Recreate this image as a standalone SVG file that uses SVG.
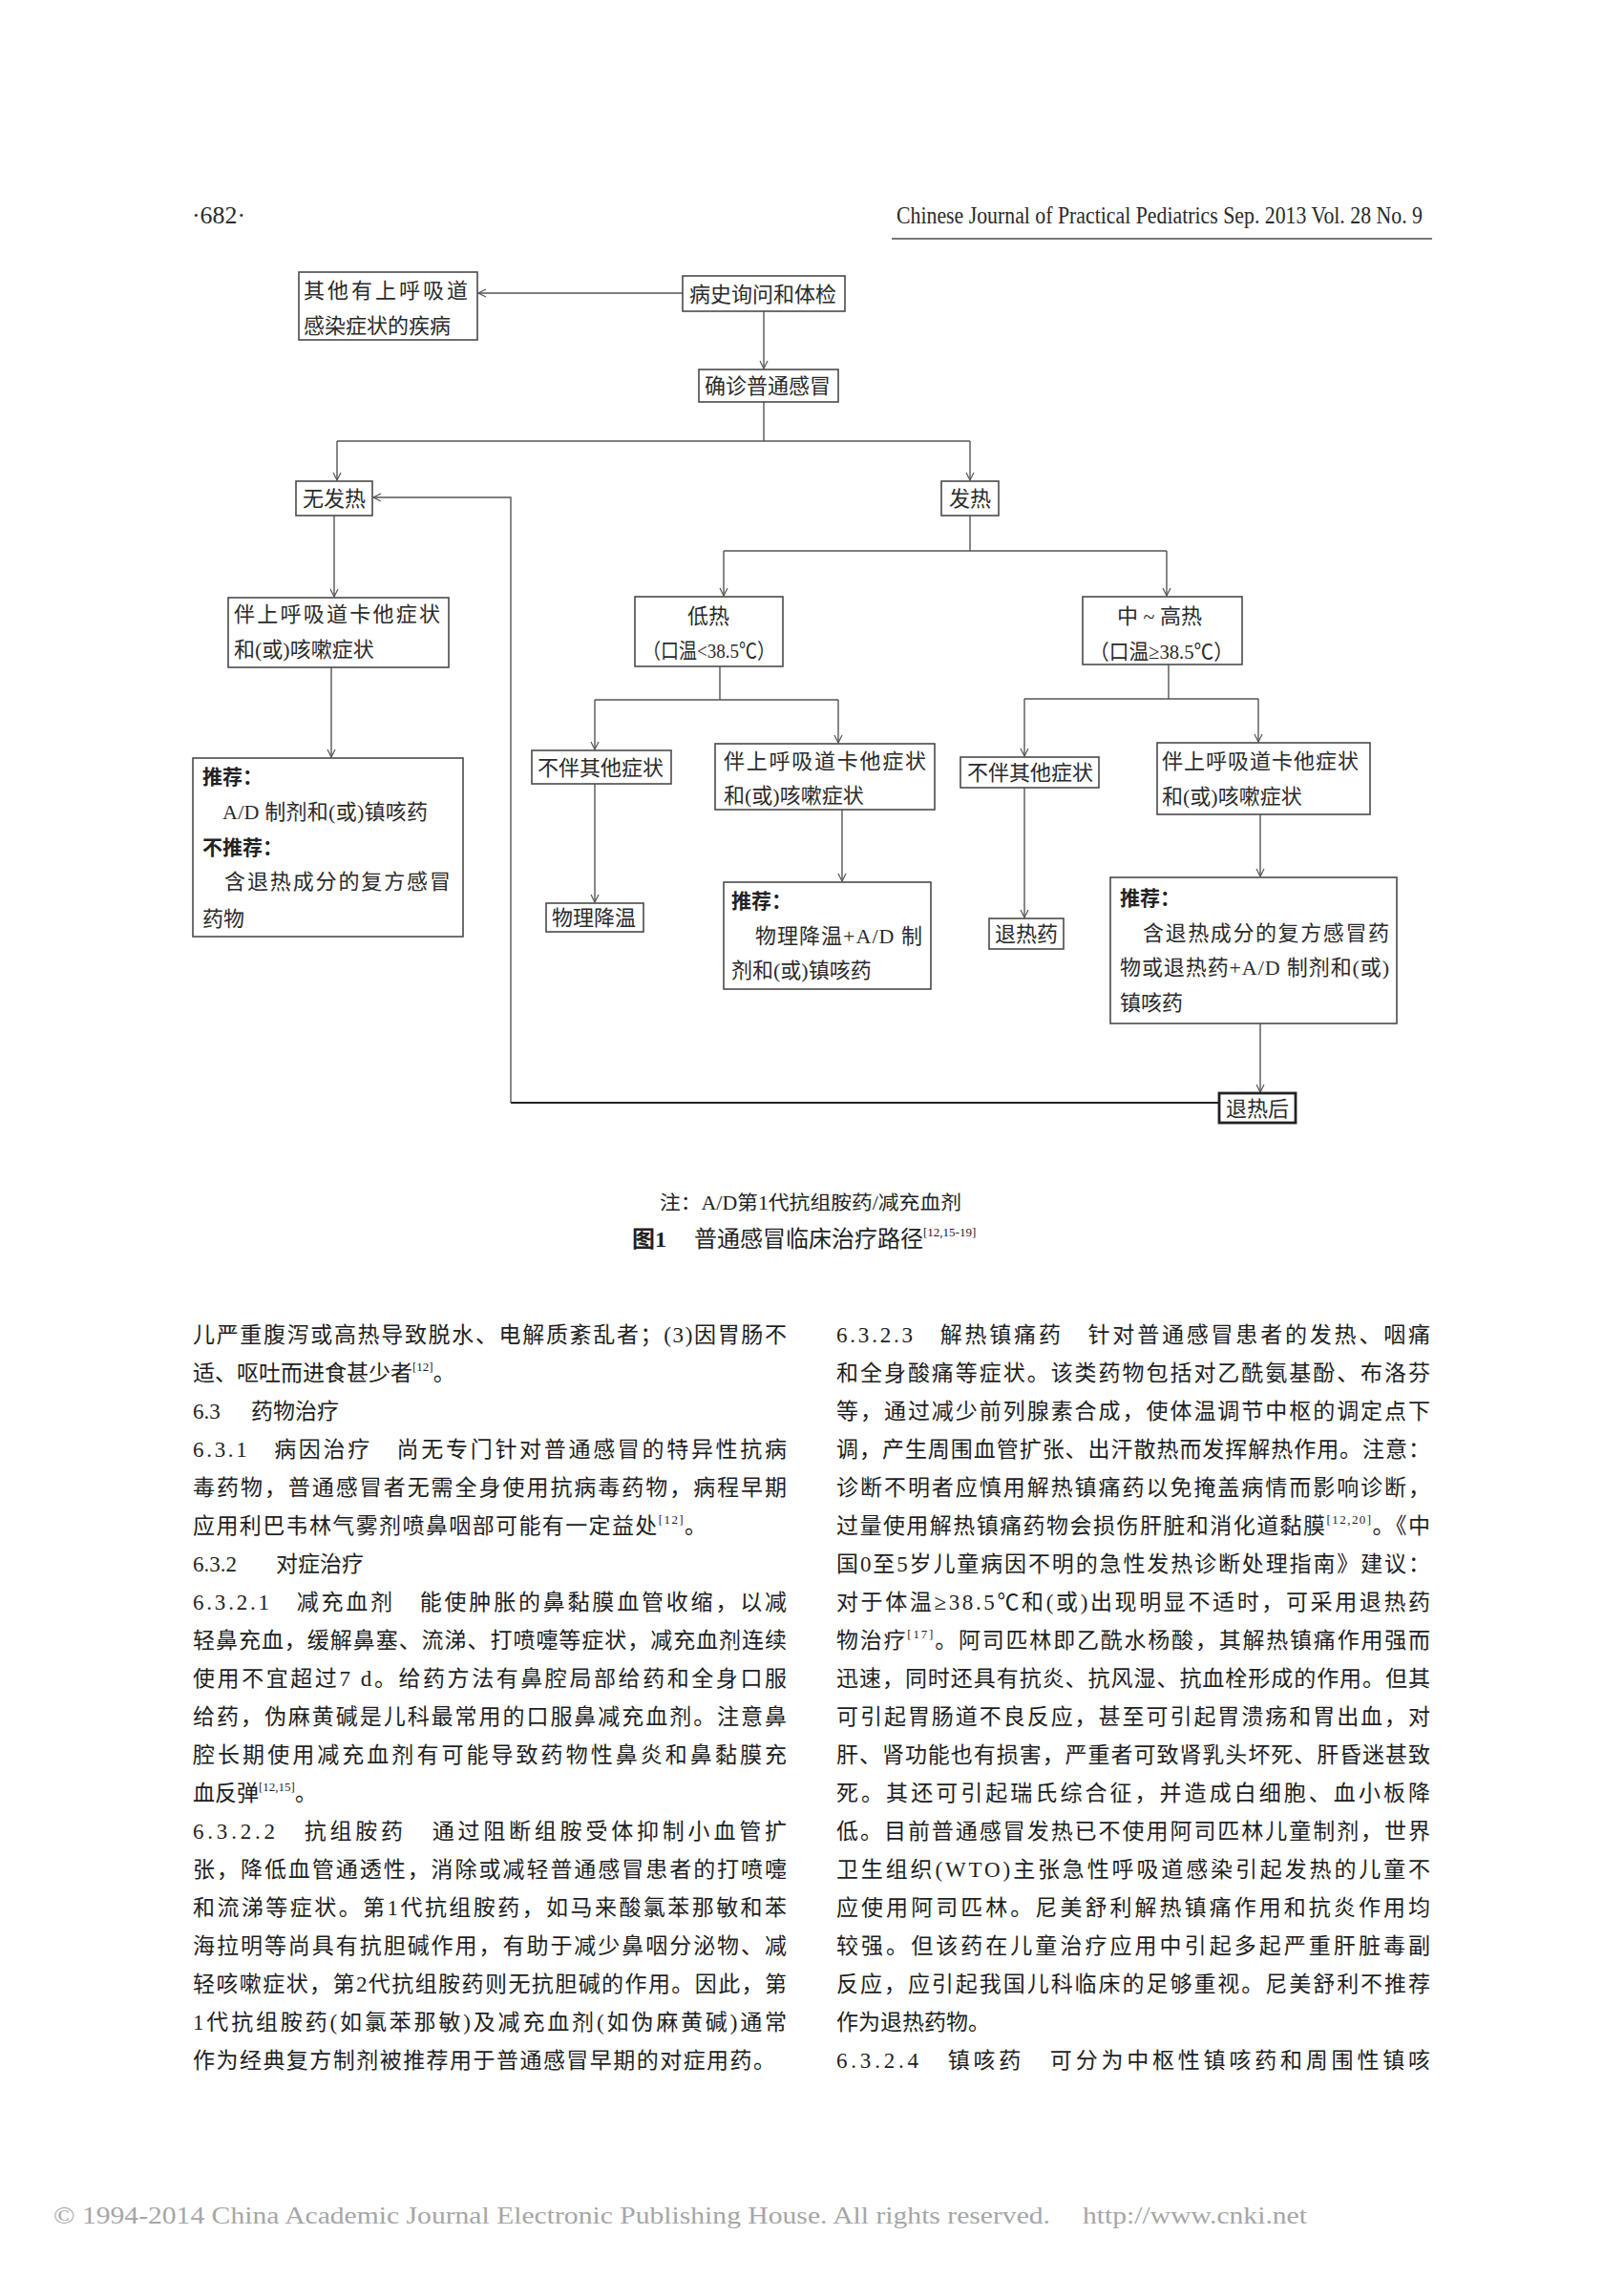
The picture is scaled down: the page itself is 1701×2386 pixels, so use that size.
<svg xmlns="http://www.w3.org/2000/svg" width="1701" height="2386" viewBox="0 0 1701 2386">
<defs>
<style>
.bg{fill:#ffffff}
.box{fill:#ffffff;stroke:#4a4a4a;stroke-width:1.6}
.boxb{fill:#ffffff;stroke:#222;stroke-width:2.8}
.t{font-family:"Liberation Serif","Noto Sans CJK SC",serif;font-size:22px;fill:#2a2a2a}
.tb{font-family:"Noto Sans CJK SC","Liberation Sans",sans-serif;font-size:21px;font-weight:bold;fill:#222}
.ln{fill:none;stroke:#555;stroke-width:1.4}
.lnd{fill:none;stroke:#222;stroke-width:2.2}
.body{font-family:"Liberation Serif","Noto Sans CJK SC",serif;font-size:23px;fill:#1e1e1e}
.hdr{font-family:"Liberation Serif",serif;font-size:25px;fill:#2a2a2a}
.cap{font-family:"Liberation Serif","Noto Sans CJK SC",serif;fill:#222}
.foot{font-family:"Liberation Serif",serif;font-size:26px;fill:#a6a6a6}
.sup{font-size:13px}
</style>
<marker id="ah" markerWidth="10" markerHeight="10" refX="9" refY="5" orient="auto" markerUnits="userSpaceOnUse">
<path d="M1,1 L9,5 L1,9" fill="none" stroke="#555" stroke-width="1.2"/>
</marker>
</defs>
<rect class="bg" x="0" y="0" width="1701" height="2386"/>

<g id="header">
<text class="hdr" x="201" y="234" textLength="56" lengthAdjust="spacingAndGlyphs">·682·</text>
<text class="hdr" x="939" y="234" textLength="551" lengthAdjust="spacingAndGlyphs">Chinese Journal of Practical Pediatrics Sep. 2013 Vol. 28 No. 9</text>
<line x1="934" y1="250" x2="1500" y2="250" stroke="#777" stroke-width="2"/>
</g>

<g id="connectors">
<line class="ln" x1="715" y1="307" x2="501" y2="307" marker-end="url(#ah)"/>
<line class="ln" x1="800" y1="326" x2="800" y2="386" marker-end="url(#ah)"/>
<line class="ln" x1="800" y1="421" x2="800" y2="462"/>
<line class="ln" x1="353" y1="462" x2="1016" y2="462"/>
<line class="ln" x1="353" y1="462" x2="353" y2="503" marker-end="url(#ah)"/>
<line class="ln" x1="1016" y1="462" x2="1016" y2="503" marker-end="url(#ah)"/>
<line class="ln" x1="1016" y1="540" x2="1016" y2="577"/>
<line class="ln" x1="758" y1="577" x2="1222" y2="577"/>
<line class="ln" x1="758" y1="577" x2="758" y2="624" marker-end="url(#ah)"/>
<line class="ln" x1="1222" y1="577" x2="1222" y2="624" marker-end="url(#ah)"/>
<line class="ln" x1="350" y1="540" x2="350" y2="625" marker-end="url(#ah)"/>
<line class="ln" x1="347" y1="699" x2="347" y2="793" marker-end="url(#ah)"/>
<line class="ln" x1="754" y1="698" x2="754" y2="733"/>
<line class="ln" x1="623" y1="733" x2="878" y2="733"/>
<line class="ln" x1="623" y1="733" x2="623" y2="785" marker-end="url(#ah)"/>
<line class="ln" x1="878" y1="733" x2="878" y2="778" marker-end="url(#ah)"/>
<line class="ln" x1="623" y1="821" x2="623" y2="945" marker-end="url(#ah)"/>
<line class="ln" x1="882" y1="848" x2="882" y2="923" marker-end="url(#ah)"/>
<line class="ln" x1="1224" y1="696" x2="1224" y2="732"/>
<line class="ln" x1="1073" y1="732" x2="1318" y2="732"/>
<line class="ln" x1="1073" y1="732" x2="1073" y2="792" marker-end="url(#ah)"/>
<line class="ln" x1="1318" y1="732" x2="1318" y2="777" marker-end="url(#ah)"/>
<line class="ln" x1="1073" y1="825" x2="1073" y2="961" marker-end="url(#ah)"/>
<line class="ln" x1="1320" y1="853" x2="1320" y2="918" marker-end="url(#ah)"/>
<line class="ln" x1="1320" y1="1072" x2="1320" y2="1144" marker-end="url(#ah)"/>
<line class="lnd" x1="1277" y1="1155" x2="535" y2="1155"/>
<polyline class="ln" points="535,1155 535,521 391,521" marker-end="url(#ah)"/>
</g>

<g id="n-other">
<rect class="box" x="313" y="285" width="187" height="71"/>
<text class="t" x="318" y="312" textLength="172" lengthAdjust="spacing">其他有上呼吸道</text>
<text class="t" x="318" y="349">感染症状的疾病</text>
</g>
<g id="n-history">
<rect class="box" x="715" y="289" width="170" height="37"/>
<text class="t" x="722" y="316">病史询问和体检</text>
</g>
<g id="n-diagnose">
<rect class="box" x="732" y="387" width="146" height="34"/>
<text class="t" x="738" y="412">确诊普通感冒</text>
</g>
<g id="n-nofever">
<rect class="box" x="310" y="504" width="80" height="36"/>
<text class="t" x="317" y="530">无发热</text>
</g>
<g id="n-fever">
<rect class="box" x="986" y="504" width="60" height="36"/>
<text class="t" x="994" y="530">发热</text>
</g>
<g id="n-left-symptoms">
<rect class="box" x="239" y="626" width="231" height="73"/>
<text class="t" x="245" y="651" textLength="216" lengthAdjust="spacing">伴上呼吸道卡他症状</text>
<text class="t" x="245" y="688">和(或)咳嗽症状</text>
</g>
<g id="n-lowfever">
<rect class="box" x="665" y="625" width="155" height="73"/>
<text class="t" x="720" y="653">低热</text>
<text class="t" x="673" y="689" textLength="139" lengthAdjust="spacingAndGlyphs">（口温&lt;38.5℃）</text>
</g>
<g id="n-highfever">
<rect class="box" x="1134" y="625" width="167" height="71"/>
<text class="t" x="1170" y="653">中 ~ 高热</text>
<text class="t" x="1141" y="690" textLength="151" lengthAdjust="spacingAndGlyphs">（口温≥38.5℃）</text>
</g>
<g id="n-left-rec">
<rect class="box" x="202" y="794" width="283" height="187"/>
<text class="tb" x="212" y="821">推荐：</text>
<text class="t" x="233" y="858" textLength="215" lengthAdjust="spacing">A/D 制剂和(或)镇咳药</text>
<text class="tb" x="212" y="895">不推荐：</text>
<text class="t" x="235" y="931" textLength="237" lengthAdjust="spacing">含退热成分的复方感冒</text>
<text class="t" x="212" y="970">药物</text>
</g>
<g id="n-low-none">
<rect class="box" x="557" y="786" width="146" height="35"/>
<text class="t" x="563" y="812">不伴其他症状</text>
</g>
<g id="n-low-symptoms">
<rect class="box" x="749" y="779" width="230" height="69"/>
<text class="t" x="758" y="805" textLength="212" lengthAdjust="spacing">伴上呼吸道卡他症状</text>
<text class="t" x="758" y="841">和(或)咳嗽症状</text>
</g>
<g id="n-physical">
<rect class="box" x="572" y="946" width="102" height="30"/>
<text class="t" x="578" y="969">物理降温</text>
</g>
<g id="n-low-rec">
<rect class="box" x="758" y="924" width="217" height="112"/>
<text class="tb" x="766" y="951">推荐：</text>
<text class="t" x="791" y="988" textLength="175" lengthAdjust="spacing">物理降温+A/D 制</text>
<text class="t" x="766" y="1024">剂和(或)镇咳药</text>
</g>
<g id="n-high-none">
<rect class="box" x="1006" y="793" width="145" height="32"/>
<text class="t" x="1013" y="817">不伴其他症状</text>
</g>
<g id="n-high-symptoms">
<rect class="box" x="1212" y="778" width="223" height="75"/>
<text class="t" x="1217" y="805" textLength="206" lengthAdjust="spacing">伴上呼吸道卡他症状</text>
<text class="t" x="1217" y="842">和(或)咳嗽症状</text>
</g>
<g id="n-antipyretic">
<rect class="box" x="1036" y="962" width="78" height="32"/>
<text class="t" x="1042" y="986">退热药</text>
</g>
<g id="n-high-rec">
<rect class="box" x="1163" y="919" width="300" height="153"/>
<text class="tb" x="1173" y="948">推荐：</text>
<text class="t" x="1197" y="985" textLength="258" lengthAdjust="spacing">含退热成分的复方感冒药</text>
<text class="t" x="1173" y="1021" textLength="282" lengthAdjust="spacing">物或退热药+A/D 制剂和(或)</text>
<text class="t" x="1173" y="1058">镇咳药</text>
</g>
<g id="n-afterfever">
<rect class="boxb" x="1277" y="1145" width="80" height="31"/>
<text class="t" x="1284" y="1169">退热后</text>
</g>

<g id="caption">
<text class="cap" x="691" y="1267" font-size="20" textLength="316" lengthAdjust="spacingAndGlyphs">注：A/D第1代抗组胺药/减充血剂</text>
<text class="cap" x="662" y="1306" font-size="24"><tspan font-weight="bold">图1</tspan><tspan x="727">普通感冒临床治疗路径</tspan><tspan class="sup" font-size="13" dy="-11">[12,15-19]</tspan></text>
</g>

<g id="body-left" class="body">
<text x="202" y="1406" textLength="622" lengthAdjust="spacing">儿严重腹泻或高热导致脱水、电解质紊乱者；(3)因胃肠不</text>
<text x="202" y="1446">适、呕吐而进食甚少者<tspan class="sup" dy="-10">[12]</tspan><tspan dy="10">。</tspan></text>
<text x="202" y="1486">6.3<tspan x="263">药物治疗</tspan></text>
<text x="202" y="1526" textLength="622" lengthAdjust="spacing">6.3.1　病因治疗　尚无专门针对普通感冒的特异性抗病</text>
<text x="202" y="1566" textLength="622" lengthAdjust="spacing">毒药物，普通感冒者无需全身使用抗病毒药物，病程早期</text>
<text x="202" y="1606" textLength="538" lengthAdjust="spacing">应用利巴韦林气雾剂喷鼻咽部可能有一定益处<tspan class="sup" dy="-10">[12]</tspan><tspan dy="10">。</tspan></text>
<text x="202" y="1646">6.3.2<tspan x="289">对症治疗</tspan></text>
<text x="202" y="1686" textLength="622" lengthAdjust="spacing">6.3.2.1　减充血剂　能使肿胀的鼻黏膜血管收缩，以减</text>
<text x="202" y="1726" textLength="622" lengthAdjust="spacing">轻鼻充血，缓解鼻塞、流涕、打喷嚏等症状，减充血剂连续</text>
<text x="202" y="1766" textLength="622" lengthAdjust="spacing">使用不宜超过7 d。给药方法有鼻腔局部给药和全身口服</text>
<text x="202" y="1806" textLength="622" lengthAdjust="spacing">给药，伪麻黄碱是儿科最常用的口服鼻减充血剂。注意鼻</text>
<text x="202" y="1846" textLength="622" lengthAdjust="spacing">腔长期使用减充血剂有可能导致药物性鼻炎和鼻黏膜充</text>
<text x="202" y="1886">血反弹<tspan class="sup" dy="-10">[12,15]</tspan><tspan dy="10">。</tspan></text>
<text x="202" y="1926" textLength="622" lengthAdjust="spacing">6.3.2.2　抗组胺药　通过阻断组胺受体抑制小血管扩</text>
<text x="202" y="1966" textLength="622" lengthAdjust="spacing">张，降低血管通透性，消除或减轻普通感冒患者的打喷嚏</text>
<text x="202" y="2006" textLength="622" lengthAdjust="spacing">和流涕等症状。第1代抗组胺药，如马来酸氯苯那敏和苯</text>
<text x="202" y="2046" textLength="622" lengthAdjust="spacing">海拉明等尚具有抗胆碱作用，有助于减少鼻咽分泌物、减</text>
<text x="202" y="2086" textLength="622" lengthAdjust="spacing">轻咳嗽症状，第2代抗组胺药则无抗胆碱的作用。因此，第</text>
<text x="202" y="2126" textLength="622" lengthAdjust="spacing">1代抗组胺药(如氯苯那敏)及减充血剂(如伪麻黄碱)通常</text>
<text x="202" y="2166" textLength="610" lengthAdjust="spacing">作为经典复方制剂被推荐用于普通感冒早期的对症用药。</text>
</g>

<g id="body-right" class="body">
<text x="876" y="1406" textLength="622" lengthAdjust="spacing">6.3.2.3　解热镇痛药　针对普通感冒患者的发热、咽痛</text>
<text x="876" y="1446" textLength="622" lengthAdjust="spacing">和全身酸痛等症状。该类药物包括对乙酰氨基酚、布洛芬</text>
<text x="876" y="1486" textLength="622" lengthAdjust="spacing">等，通过减少前列腺素合成，使体温调节中枢的调定点下</text>
<text x="876" y="1526" textLength="622" lengthAdjust="spacing">调，产生周围血管扩张、出汗散热而发挥解热作用。注意：</text>
<text x="876" y="1566" textLength="622" lengthAdjust="spacing">诊断不明者应慎用解热镇痛药以免掩盖病情而影响诊断，</text>
<text x="876" y="1606" textLength="622" lengthAdjust="spacing">过量使用解热镇痛药物会损伤肝脏和消化道黏膜<tspan class="sup" dy="-10">[12,20]</tspan><tspan dy="10">。《中</tspan></text>
<text x="876" y="1646" textLength="622" lengthAdjust="spacing">国0至5岁儿童病因不明的急性发热诊断处理指南》建议：</text>
<text x="876" y="1686" textLength="622" lengthAdjust="spacing">对于体温≥38.5℃和(或)出现明显不适时，可采用退热药</text>
<text x="876" y="1726" textLength="622" lengthAdjust="spacing">物治疗<tspan class="sup" dy="-10">[17]</tspan><tspan dy="10">。阿司匹林即乙酰水杨酸，其解热镇痛作用强而</tspan></text>
<text x="876" y="1766" textLength="622" lengthAdjust="spacing">迅速，同时还具有抗炎、抗风湿、抗血栓形成的作用。但其</text>
<text x="876" y="1806" textLength="622" lengthAdjust="spacing">可引起胃肠道不良反应，甚至可引起胃溃疡和胃出血，对</text>
<text x="876" y="1846" textLength="622" lengthAdjust="spacing">肝、肾功能也有损害，严重者可致肾乳头坏死、肝昏迷甚致</text>
<text x="876" y="1886" textLength="622" lengthAdjust="spacing">死。其还可引起瑞氏综合征，并造成白细胞、血小板降</text>
<text x="876" y="1926" textLength="622" lengthAdjust="spacing">低。目前普通感冒发热已不使用阿司匹林儿童制剂，世界</text>
<text x="876" y="1966" textLength="622" lengthAdjust="spacing">卫生组织(WTO)主张急性呼吸道感染引起发热的儿童不</text>
<text x="876" y="2006" textLength="622" lengthAdjust="spacing">应使用阿司匹林。尼美舒利解热镇痛作用和抗炎作用均</text>
<text x="876" y="2046" textLength="622" lengthAdjust="spacing">较强。但该药在儿童治疗应用中引起多起严重肝脏毒副</text>
<text x="876" y="2086" textLength="622" lengthAdjust="spacing">反应，应引起我国儿科临床的足够重视。尼美舒利不推荐</text>
<text x="876" y="2126">作为退热药物。</text>
<text x="876" y="2166" textLength="622" lengthAdjust="spacing">6.3.2.4　镇咳药　可分为中枢性镇咳药和周围性镇咳</text>
</g>

<g id="footer">
<text class="foot" x="56" y="2329" textLength="1044" lengthAdjust="spacingAndGlyphs">© 1994-2014 China Academic Journal Electronic Publishing House. All rights reserved.</text>
<text class="foot" x="1134" y="2329" textLength="235" lengthAdjust="spacingAndGlyphs">http://www.cnki.net</text>
</g>
</svg>
